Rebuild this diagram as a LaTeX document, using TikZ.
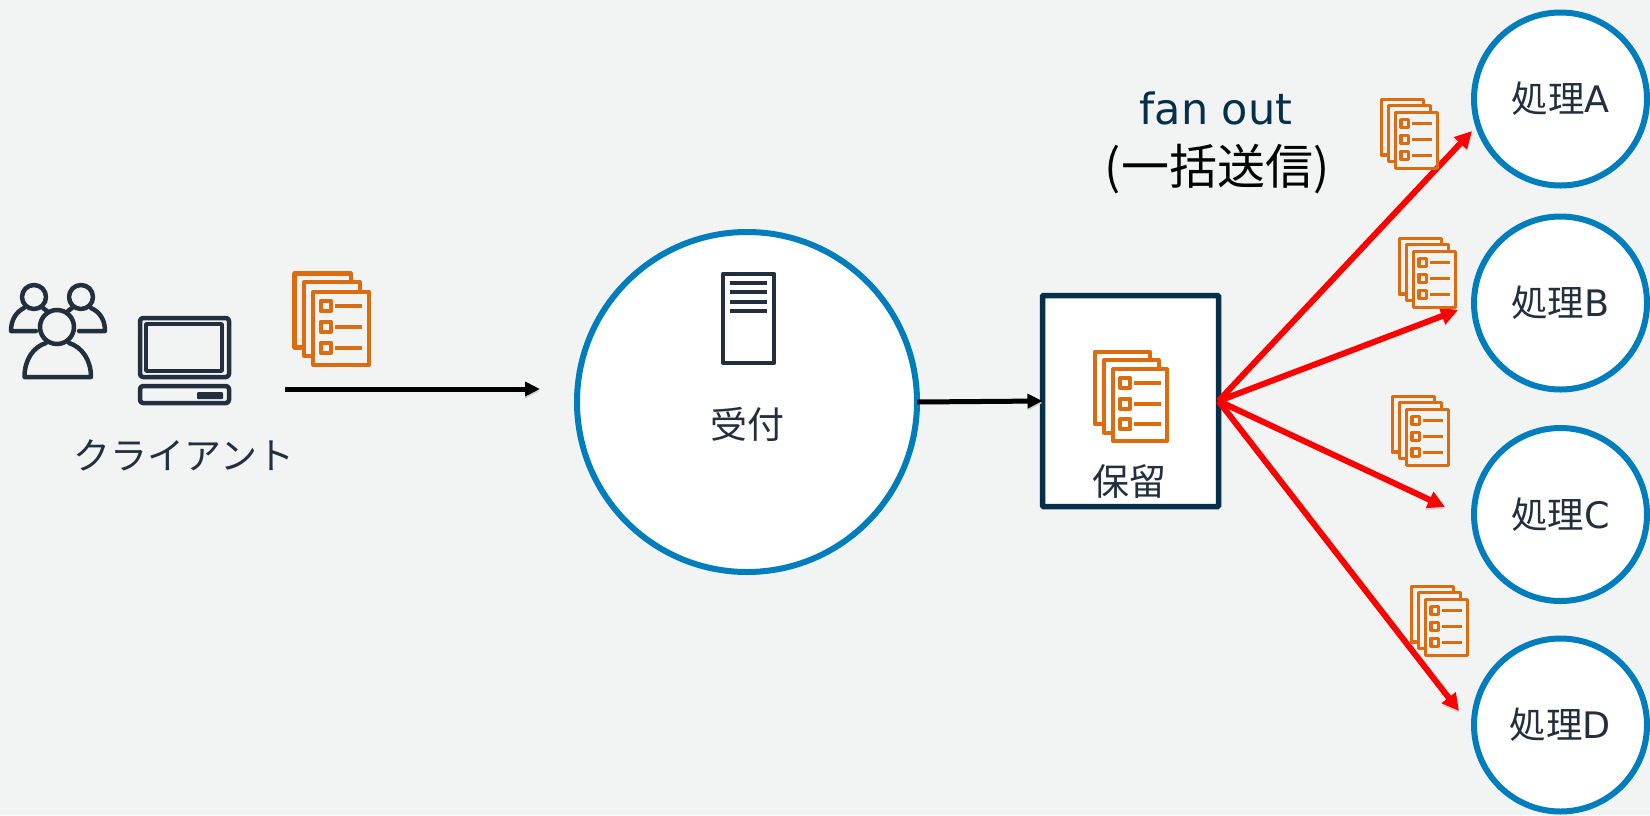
\documentclass[tikz,border=0pt]{standalone}
\usepackage{fontspec}
\setmainfont{Noto Sans CJK JP}
\newfontfamily\latinfont{DejaVu Sans}
\usetikzlibrary{arrows.meta}
\usetikzlibrary{positioning}
\definecolor{bgcol}{RGB}{242,244,244}
\definecolor{ringcol}{RGB}{0,125,188}
\definecolor{boxcol}{RGB}{4,48,74}
\definecolor{inkcol}{RGB}{35,47,62}
\definecolor{doccol}{RGB}{221,107,16}
\definecolor{arrowcol}{RGB}{255,0,0}
\tikzset{ring/.style={circle,fill=white,draw=ringcol,line width=6pt,inner sep=0pt,outer sep=0pt,
text=inkcol,font=\fontsize{36.5}{36.5}\selectfont},
worker/.style={ring,minimum size=173pt},
holdbox/.style={rectangle,fill=white,draw=boxcol,line width=5.5pt,inner sep=0pt,outer sep=0pt,
minimum width=176pt,minimum height=211pt,rounded corners=1pt},
label/.style={inner sep=0pt,text=inkcol,font=\fontsize{37}{37}\selectfont},
title/.style={inner sep=0pt,text=boxcol,font=\fontsize{43}{43}\selectfont},
bulk/.style={inner sep=0pt,text=black,font=\fontsize{48}{48}\selectfont},
icon/.style={draw=inkcol,line width=4.5pt,line join=round,line cap=round},
flow/.style={-{Triangle[length=15pt,width=14pt]},black,line width=5pt,
preaction={draw=black!18,transform canvas={yshift=-2pt}}},
fan/.style={-{Triangle[length=17pt,width=17pt]},arrowcol,line width=6pt,
preaction={draw=black!15,transform canvas={yshift=-2pt}}}}
\newcommand{\docstack}[3]{
\begin{scope}[shift={(#1,#2)},scale=#3,draw=doccol,line width=#3*4pt,line join=round]
\draw (56.7,10) -- (56.7,1.5) -- (1.5,1.5) -- (1.5,74) -- (10,74);
\draw (65.7,18.3) -- (65.7,10) -- (11,10) -- (11,82.7) -- (19.3,82.7);
\draw (20,19.3) rectangle (74.3,91.2);
\foreach \rowy in {33,53.7,74.3}{
\draw (27.3,\rowy-5) rectangle (37.3,\rowy+5);
\draw (41.3,\rowy) -- (68,\rowy);
}
\end{scope}
}
\begin{document}
\begin{tikzpicture}[x=1pt,y=-1pt]
  \useasboundingbox [fill=bgcol] (0,0) rectangle (1650,815);

  \node (accept) [ring,minimum size=340pt] at (747,402) {};
  \node (hold) [holdbox] at (1130.5,401) {};
  \node (procA) [worker] at (1560.5,99) {処理{\latinfont A}};
  \node (procB) [worker] at (1560.5,303) {処理{\latinfont B}};
  \node (procC) [worker] at (1560.5,514.5) {処理{\latinfont C}};
  \node (procD) [worker] at (1560.5,725) {処理{\latinfont D}};

  \node (clientl) [label] at (184,455) {クライアント};
  \node (acceptl) [label] at (747,424) {受付};
  \node (holdl) [label] at (1129,481) {保留};
  \node (fanl) [title] at (1216,108) {{\latinfont fan out}};
  \node (bulkl) [bulk] at (1217,169) {(一括送信)};

  \coordinate (sendstart) at (285,389);
  \coordinate (sendend) at (540,389);
  \coordinate (tipA) at (1472,131);
  \coordinate (tipB) at (1458,310);
  \coordinate (tipC) at (1445,507);
  \coordinate (tipD) at (1459,711);

  \draw [flow] (sendstart) -- (sendend);
  \draw [flow] (accept.east) -- (hold.west);
  \draw [fan] (hold.east) -- (tipA);
  \draw [fan] (hold.east) -- (tipB);
  \draw [fan] (hold.east) -- (tipC);
  \draw [fan] (hold.east) -- (tipD);

  \docstack{293}{272}{1.02}
  \docstack{1093}{350}{1}
  \docstack{1380}{98}{0.77}
  \docstack{1398}{237}{0.77}
  \docstack{1391}{395}{0.77}
  \docstack{1410}{585}{0.77}

  \draw [icon,fill=white] (723,274) rectangle (774,363);
  \foreach \liney in {283,292,302,311}{
    \draw [inkcol,line width=3.5pt] (730,\liney) -- (767,\liney);
  }

  \draw [icon,rounded corners=3pt] (140,318) rectangle (229,377);
  \draw [icon,line width=3.5pt] (146,324) rectangle (222,371);
  \draw [icon,rounded corners=3pt] (140,386) rectangle (229,403);
  \fill [inkcol,rounded corners=1pt] (197,392) rectangle (223,399);

  \draw [icon] (34,297) circle (12);
  \draw [icon] (81,297) circle (12);
  \draw [icon] (36,331) -- (11,331) .. controls (11,320) and (16,312) .. (24,308);
  \draw [icon] (43,308) -- (47,311);
  \draw [icon] (79,331) -- (105,331) .. controls (105,320) and (100,312) .. (91,308);
  \draw [icon] (72,308) -- (68,311);
  \draw [icon] (57,327) circle (17);
  \draw [icon] (46,343) .. controls (33,347) and (24.5,360) .. (24.5,377) -- (91,377) .. controls (91,360) and (82,347) .. (69,343);
\end{tikzpicture}
\end{document}
